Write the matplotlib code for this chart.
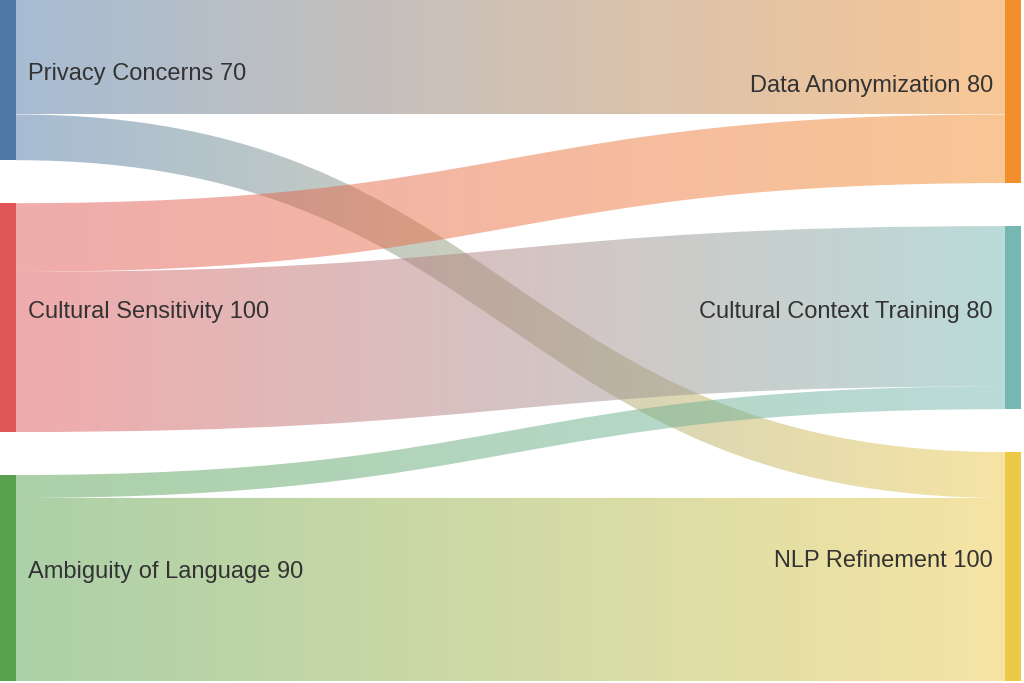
import numpy as np
import matplotlib
matplotlib.use("Agg")
import matplotlib.pyplot as plt
from matplotlib.path import Path
from matplotlib.patches import PathPatch, Rectangle
from matplotlib.colors import to_rgb

# ---- data ----
sources = ["Privacy Concerns", "Cultural Sensitivity", "Ambiguity of Language"]
targets = ["Data Anonymization", "Cultural Context Training", "NLP Refinement"]
link_src = [0, 0, 1, 1, 2, 2]
link_tgt = [0, 2, 0, 1, 1, 2]
link_val = [50, 20, 30, 70, 10, 80]
src_colors = ["#4e79a7", "#e15759", "#59a14f"]
tgt_colors = ["#f28e2b", "#76b7b2", "#edc948"]

W, H = 1024, 683
fig = plt.figure(figsize=(W / 100, H / 100), dpi=100)
ax = fig.add_axes([0, 0, 1, 1])
ax.set_xlim(0, W)
ax.set_ylim(H, 0)
ax.axis("off")

node_w = 16
xL0, xL1 = 0, node_w
xR0, xR1 = 1005, 1005 + node_w
y_top, y_bot = 0, 681
pad = 43

src_tot = [sum(v for s, v in zip(link_src, link_val) if s == i) for i in range(len(sources))]
tgt_tot = [sum(v for t, v in zip(link_tgt, link_val) if t == i) for i in range(len(targets))]
scale = (y_bot - y_top - pad * (len(sources) - 1)) / sum(src_tot)

def layout(tots):
    ys = []
    y = y_top
    for t in tots:
        ys.append((y, y + t * scale))
        y += t * scale + pad
    return ys

src_y = layout(src_tot)
tgt_y = layout(tgt_tot)

# link positions
src_off = [a for a, b in src_y]
tgt_off = [a for a, b in tgt_y]
links = []
for s, t, v in zip(link_src, link_tgt, link_val):
    h = v * scale
    links.append((s, t, src_off[s], src_off[s] + h, tgt_off[t], tgt_off[t] + h))
    src_off[s] += h
    tgt_off[t] += h

alpha = 0.5
xa, xb = xL1, xR0
xm = (xa + xb) / 2
for s, t, sy0, sy1, ty0, ty1 in links:
    verts = [(xa, sy0), (xm, sy0), (xm, ty0), (xb, ty0),
             (xb, ty1), (xm, ty1), (xm, sy1), (xa, sy1), (xa, sy0)]
    codes = [Path.MOVETO, Path.CURVE4, Path.CURVE4, Path.CURVE4,
             Path.LINETO, Path.CURVE4, Path.CURVE4, Path.CURVE4, Path.CLOSEPOLY]
    path = Path(verts, codes)
    patch = PathPatch(path, facecolor="none", edgecolor="none")
    ax.add_patch(patch)
    c0 = np.array(to_rgb(src_colors[s]))
    c1 = np.array(to_rgb(tgt_colors[t]))
    n = 256
    f = np.linspace(0, 1, n)[:, None]
    rgb = c0 * (1 - f) + c1 * f
    img = np.concatenate([rgb, np.full((n, 1), alpha)], axis=1)[None, :, :]
    ymin, ymax = min(sy0, ty0), max(sy1, ty1)
    im = ax.imshow(img, extent=[xa, xb, ymax, ymin], aspect="auto",
                   interpolation="bilinear", zorder=1)
    im.set_clip_path(patch)

for i, (a, b) in enumerate(src_y):
    ax.add_patch(Rectangle((xL0, a), node_w, b - a, color=src_colors[i], zorder=3, lw=0))
    ax.text(xL1 + 12, (a + b) / 2, f"{sources[i]} {src_tot[i]}", ha="left", va="baseline",
            fontsize=17, family="Liberation Sans", color="#333333", zorder=4)
for i, (a, b) in enumerate(tgt_y):
    ax.add_patch(Rectangle((xR0, a), node_w, b - a, color=tgt_colors[i], zorder=3, lw=0))
    ax.text(xR0 - 12, (a + b) / 2, f"{targets[i]} {tgt_tot[i]}", ha="right", va="baseline",
            fontsize=17, family="Liberation Sans", color="#333333", zorder=4)

fig.savefig("out.png", dpi=100)
